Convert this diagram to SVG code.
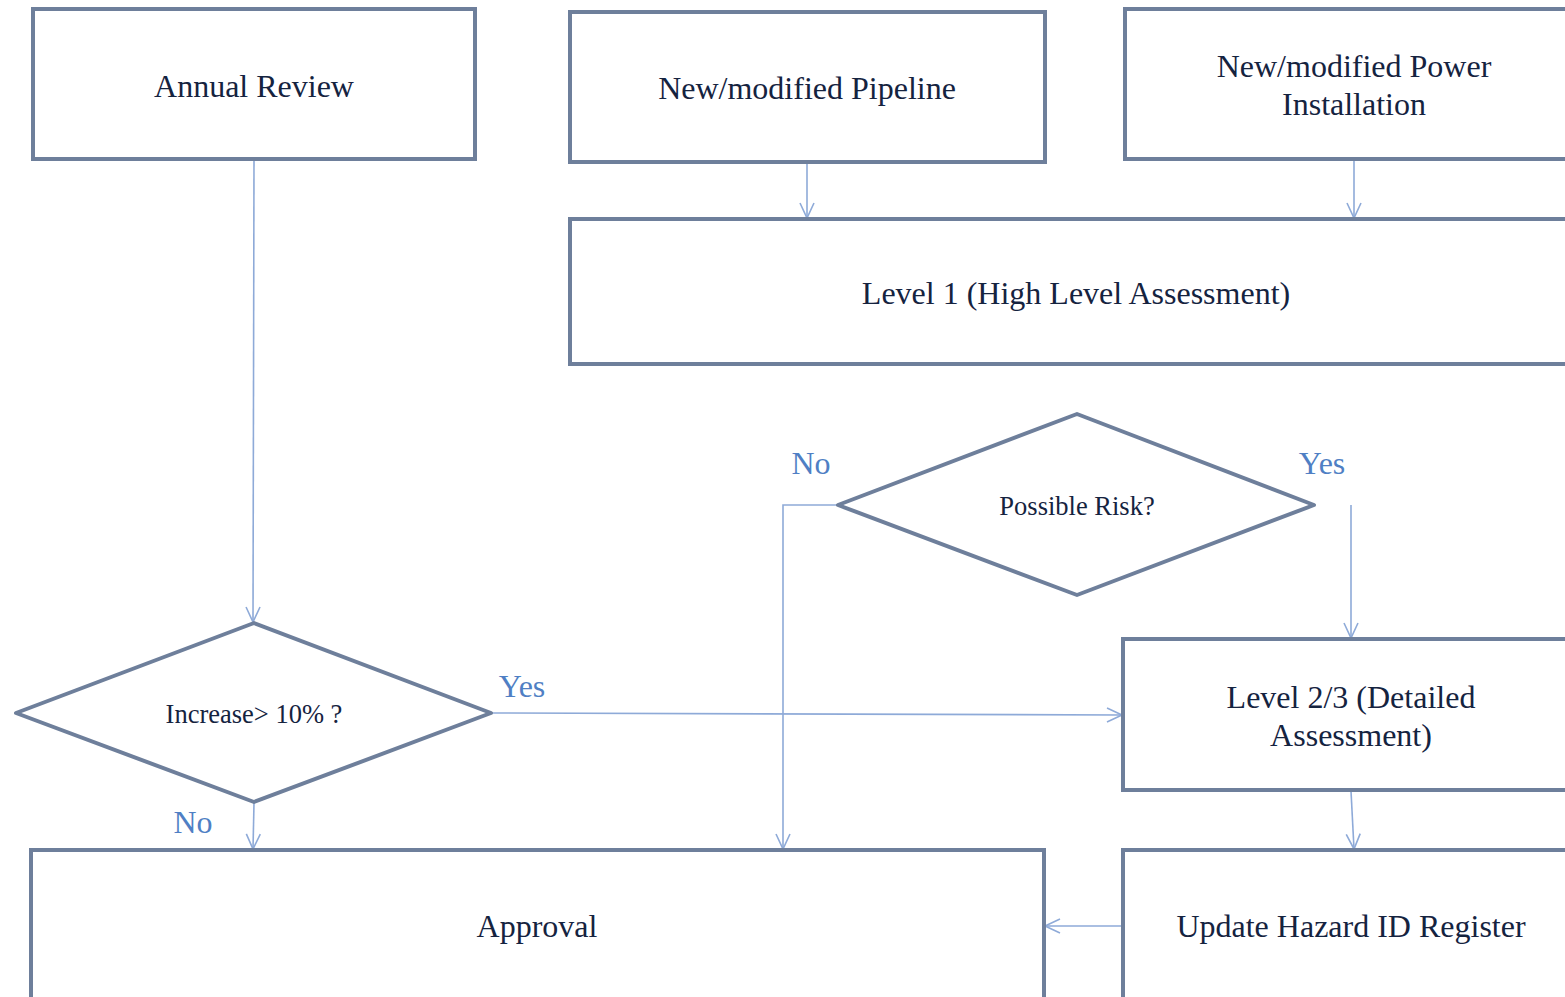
<svg xmlns="http://www.w3.org/2000/svg" width="1565" height="997" viewBox="0 0 1565 997">
<style>
.box{fill:#fff;stroke:#6e7f9b;stroke-width:4;stroke-linejoin:miter}
.dia{fill:#fff;stroke:#6e7f9b;stroke-width:4;stroke-linejoin:round}
.t{font-family:"Liberation Serif","Times New Roman",serif;font-size:32px;fill:#15233f;text-anchor:middle;dominant-baseline:central}
.ts{font-family:"Liberation Serif","Times New Roman",serif;font-size:26.5px;fill:#15233f;text-anchor:middle;dominant-baseline:central}
.lbl{font-family:"Liberation Serif","Times New Roman",serif;font-size:32px;fill:#4f7fc4;text-anchor:middle;dominant-baseline:central}
.c{fill:none;stroke:#8eaad8;stroke-width:1.6}
</style>
<defs>
<marker id="arr" markerUnits="userSpaceOnUse" markerWidth="20" markerHeight="20" refX="16" refY="8" orient="auto">
<path d="M1,1 L16,8 L1,15" fill="none" stroke="#8eaad8" stroke-width="1.6"/>
</marker>
</defs>
<rect width="1565" height="997" fill="#fff"/>
<g id="connectors">
<path class="c" d="M254,160 L253,622" marker-end="url(#arr)"/>
<path class="c" d="M807,163 L807,218" marker-end="url(#arr)"/>
<path class="c" d="M1354,160 L1354,218" marker-end="url(#arr)"/>
<path class="c" d="M838,505 L783,505 L783,849" marker-end="url(#arr)"/>
<path class="c" d="M1351,505 L1351,638" marker-end="url(#arr)"/>
<path class="c" d="M492,713 L1122,715" marker-end="url(#arr)"/>
<path class="c" d="M254,803 L253,849" marker-end="url(#arr)"/>
<path class="c" d="M1351,791 L1354,849" marker-end="url(#arr)"/>
<path class="c" d="M1123,926 L1045,926" marker-end="url(#arr)"/>
</g>
<g id="annual-review">
<rect class="box" x="33" y="9" width="442" height="150"/>
<text class="t" x="254" y="86">Annual Review</text>
</g>
<g id="pipeline">
<rect class="box" x="570" y="12" width="475" height="150"/>
<text class="t" x="807" y="88">New/modified Pipeline</text>
</g>
<g id="power">
<rect class="box" x="1125" y="9" width="460" height="150"/>
<text class="t" x="1354" y="66">New/modified Power</text>
<text class="t" x="1354" y="104">Installation</text>
</g>
<g id="level1">
<rect class="box" x="570" y="219" width="1015" height="145"/>
<text class="t" x="1076" y="293">Level 1 (High Level Assessment)</text>
</g>
<g id="possible-risk">
<polygon class="dia" points="838,505 1077,414 1314,505 1077,595"/>
<text class="ts" x="1077" y="506">Possible Risk?</text>
</g>
<g id="increase">
<polygon class="dia" points="16,713 254,623 491,713 254,802"/>
<text class="ts" x="254" y="714">Increase&gt; 10% ?</text>
</g>
<g id="level23">
<rect class="box" x="1123" y="639" width="462" height="151"/>
<text class="t" x="1351" y="697">Level 2/3 (Detailed</text>
<text class="t" x="1351" y="735">Assessment)</text>
</g>
<g id="approval">
<rect class="box" x="31" y="850" width="1013" height="170"/>
<text class="t" x="537" y="926">Approval</text>
</g>
<g id="update">
<rect class="box" x="1123" y="850" width="462" height="170"/>
<text class="t" x="1351" y="926">Update Hazard ID Register</text>
</g>
<g id="labels">
<text class="lbl" x="811" y="463">No</text>
<text class="lbl" x="1322" y="463">Yes</text>
<text class="lbl" x="522" y="686">Yes</text>
<text class="lbl" x="193" y="822">No</text>
</g>
</svg>
